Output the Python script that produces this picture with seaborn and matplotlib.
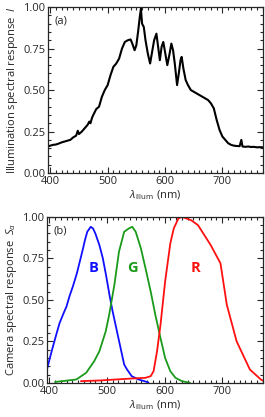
import numpy as np
import matplotlib
matplotlib.use('Agg')
import matplotlib.pyplot as plt
import seaborn as sns
from matplotlib.ticker import MultipleLocator, FormatStrFormatter

# (a) illumination spectrum
illum_nm = [395, 400, 405, 410, 415, 420, 425, 430, 435, 440, 445, 448, 450, 455,
            460, 465, 468, 470, 473, 475, 480, 485, 490, 495, 500, 505, 510, 515,
            520, 525, 530, 535, 540, 543, 547, 550, 553, 556, 558, 560, 563, 566,
            570, 574, 577, 581, 585, 588, 591, 594, 597, 600, 604, 608, 611, 614,
            617, 621, 624, 627, 629, 632, 636, 640, 645, 650, 655, 660, 665, 670,
            675, 680, 685, 690, 695, 700, 705, 710, 715, 720, 725, 730, 733, 735,
            740, 745, 750, 755, 760, 765, 770]
illum_val = [0.160, 0.165, 0.170, 0.172, 0.178, 0.185, 0.190, 0.195, 0.200, 0.215,
             0.225, 0.255, 0.235, 0.250, 0.270, 0.290, 0.310, 0.300, 0.335, 0.350,
             0.385, 0.400, 0.460, 0.500, 0.530, 0.590, 0.640, 0.660, 0.690, 0.750,
             0.790, 0.800, 0.805, 0.780, 0.740, 0.770, 0.850, 0.940, 0.990, 0.900,
             0.880, 0.800, 0.720, 0.660, 0.720, 0.800, 0.840, 0.760, 0.680, 0.760,
             0.790, 0.730, 0.650, 0.720, 0.780, 0.740, 0.660, 0.530, 0.600, 0.680,
             0.700, 0.630, 0.560, 0.530, 0.500, 0.490, 0.480, 0.470, 0.460, 0.450,
             0.440, 0.420, 0.390, 0.320, 0.260, 0.220, 0.200, 0.180, 0.170, 0.165,
             0.163, 0.162, 0.200, 0.160, 0.158, 0.160, 0.157, 0.158, 0.155, 0.156,
             0.155]

# (b) camera channel responses
blue_nm = [396, 405, 413, 418, 425, 430, 435, 441, 448, 453, 458, 462, 466, 472,
           476, 480, 487, 493, 499, 505, 510, 515, 520, 525, 530, 535, 543, 555,
           565, 572]
blue_val = [0.08, 0.20, 0.30, 0.36, 0.42, 0.46, 0.52, 0.58, 0.66, 0.73, 0.80, 0.86,
            0.91, 0.94, 0.93, 0.90, 0.83, 0.75, 0.64, 0.52, 0.43, 0.35, 0.27, 0.19,
            0.11, 0.08, 0.04, 0.02, 0.01, 0.002]
green_nm = [410, 447, 464, 478, 487, 498, 504, 513, 521, 530, 538, 544, 550, 559,
            567, 576, 584, 593, 601, 610, 619, 630, 644]
green_val = [0.005, 0.02, 0.06, 0.13, 0.19, 0.31, 0.41, 0.59, 0.79, 0.91, 0.93,
             0.94, 0.91, 0.81, 0.69, 0.55, 0.41, 0.27, 0.15, 0.07, 0.03, 0.01, 0.0]
red_nm = [455, 487, 544, 567, 576, 581, 587, 593, 601, 610, 616, 624, 630, 646,
          658, 669, 680, 697, 708, 725, 748, 767, 775]
red_val = [0.01, 0.014, 0.026, 0.03, 0.04, 0.07, 0.19, 0.35, 0.61, 0.84, 0.93,
           0.99, 1.0, 0.98, 0.95, 0.89, 0.83, 0.72, 0.47, 0.25, 0.08, 0.02, 0.005]

channels = ['B', 'G', 'R']
label_nm = [477, 544, 653]
label_val = [0.69, 0.69, 0.69]
colors = ['#1010ff', '#1a9a1a', '#ff1010']

sns.set_style('ticks')
plt.rcParams['font.family'] = ['Open Sans', 'DejaVu Sans']
plt.rcParams['mathtext.fontset'] = 'custom'
plt.rcParams['mathtext.rm'] = 'Open Sans'
plt.rcParams['mathtext.it'] = 'Open Sans:italic'
plt.rcParams['font.size'] = 8

fig = plt.figure(figsize=(2.65, 4.17), dpi=100)
ax1 = fig.add_axes([0.181, 0.585, 0.812, 0.398])
ax2 = fig.add_axes([0.177, 0.082, 0.816, 0.398])

sns.lineplot(x=illum_nm, y=illum_val, ax=ax1, color='black', linewidth=1.5)

for nm, val, c in zip([blue_nm, green_nm, red_nm], [blue_val, green_val, red_val], colors):
    sns.lineplot(x=nm, y=val, ax=ax2, color=c, linewidth=1.3)
for ch, x, y, c in zip(channels, label_nm, label_val, colors):
    ax2.text(x, y, ch, color=c, fontsize=10.5, fontweight='bold', ha='center', va='center')

ax1.text(0.03, 0.9, '(a)', transform=ax1.transAxes, fontsize=8)
ax2.text(0.03, 0.9, '(b)', transform=ax2.transAxes, fontsize=8)

ax1.set_ylabel(r'Illumination spectral response  $I$', fontsize=8)
ax2.set_ylabel(r'Camera spectral response  $S_{\alpha}$', fontsize=8)

for ax in (ax1, ax2):
    ax.set_xlim(396, 771)
    ax.set_ylim(0, 1)
    ax.set_xlabel(r'$\lambda_{\mathrm{illum}}$ (nm)', fontsize=8, labelpad=1)
    ax.xaxis.set_major_locator(MultipleLocator(100))
    ax.xaxis.set_minor_locator(MultipleLocator(10))
    ax.yaxis.set_major_locator(MultipleLocator(0.25))
    ax.yaxis.set_minor_locator(MultipleLocator(0.05))
    ax.yaxis.set_major_formatter(FormatStrFormatter('%.2f'))
    ax.tick_params(which='both', direction='in', top=True, right=True, labelsize=8,
                   width=0.8, pad=2)
    ax.tick_params(which='major', length=4)
    ax.tick_params(which='minor', length=2)
    for s in ax.spines.values():
        s.set_linewidth(0.9)
        s.set_visible(True)
    ax.yaxis.labelpad = 2

fig.savefig('out.png', dpi=100)
